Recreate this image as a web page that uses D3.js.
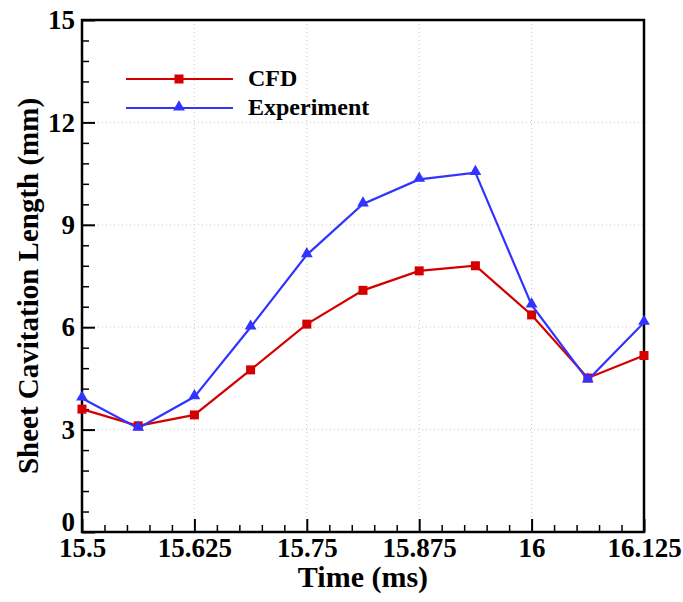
<!DOCTYPE html>
<html>
<head>
<meta charset="utf-8">
<script src="https://cdn.jsdelivr.net/npm/d3@7/dist/d3.min.js"></script>
<style>
  html, body { margin: 0; padding: 0; background: #fff; }
</style>
</head>
<body>
<svg id="chart" width="683" height="602"></svg>
<script>
// ---- data ----
const times = [15.5, 15.5625, 15.625, 15.6875, 15.75, 15.8125, 15.875, 15.9375, 16, 16.0625, 16.125];
const cfd = [3.60, 3.11, 3.43, 4.75, 6.09, 7.08, 7.65, 7.80, 6.36, 4.51, 5.17];
const experiment = [3.92, 3.04, 3.96, 6.00, 8.12, 9.61, 10.33, 10.53, 6.65, 4.45, 6.14];
const xTicks = [15.5, 15.625, 15.75, 15.875, 16, 16.125];
const xTickLabels = ["15.5", "15.625", "15.75", "15.875", "16", "16.125"];
const yTicks = [0, 3, 6, 9, 12, 15];
const yTickLabels = ["0", "3", "6", "9", "12", "15"];
const seriesNames = ["CFD", "Experiment"];

const FONT = "'Liberation Serif', 'Times New Roman', Tinos, 'DejaVu Serif', serif";

// ---- layout ----
const svg = d3.select("#chart");
const L = 82, R = 644, T = 20, B = 532;
const x = d3.scaleLinear().domain([15.5, 16.125]).range([L, R]);
const y = d3.scaleLinear().domain([0, 15]).range([B, T]);

// grid
const grid = svg.append("g");
grid.selectAll(".gx").data(xTicks.slice(1, -1)).enter().append("line")
  .attr("x1", d => x(d)).attr("x2", d => x(d)).attr("y1", T).attr("y2", B)
  .attr("stroke", "#c8c8c8").attr("stroke-width", 1).attr("stroke-dasharray", "1,3");
grid.selectAll(".gy").data(yTicks.slice(1, -1)).enter().append("line")
  .attr("y1", d => y(d)).attr("y2", d => y(d)).attr("x1", L).attr("x2", R)
  .attr("stroke", "#c8c8c8").attr("stroke-width", 1).attr("stroke-dasharray", "1,3");

// minor ticks
const xMinor = d3.range(0, 26).map(i => 15.5 + i * 0.025).filter((d, i) => i % 5 !== 0);
const yMinor = d3.range(0, 26).map(i => i * 0.6).filter((d, i) => i % 5 !== 0);
svg.append("g").attr("transform", `translate(0,${B})`)
  .call(d3.axisBottom(x).tickValues(xMinor).tickSize(-7).tickSizeOuter(0).tickFormat(""))
  .call(g => g.select(".domain").remove())
  .call(g => g.selectAll("line").attr("stroke", "#000").attr("stroke-width", 1.5));
svg.append("g").attr("transform", `translate(${L},0)`)
  .call(d3.axisLeft(y).tickValues(yMinor).tickSize(-7).tickSizeOuter(0).tickFormat(""))
  .call(g => g.select(".domain").remove())
  .call(g => g.selectAll("line").attr("stroke", "#000").attr("stroke-width", 1.5));

// major axes
svg.append("g").attr("transform", `translate(0,${B})`)
  .call(d3.axisBottom(x).tickValues(xTicks).tickSize(-13).tickSizeOuter(0).tickPadding(6)
    .tickFormat((d, i) => xTickLabels[i]))
  .attr("font-family", FONT).attr("font-weight", "bold").attr("font-size", 27)
  .call(g => g.select(".domain").remove())
  .call(g => g.selectAll("line").attr("stroke", "#000").attr("stroke-width", 2))
  .call(g => g.selectAll("text").attr("fill", "#000"));
svg.append("g").attr("transform", `translate(${L},0)`)
  .call(d3.axisLeft(y).tickValues(yTicks).tickSize(-13).tickSizeOuter(0).tickPadding(7)
    .tickFormat((d, i) => yTickLabels[i]))
  .attr("font-family", FONT).attr("font-weight", "bold").attr("font-size", 27)
  .call(g => g.select(".domain").remove())
  .call(g => g.selectAll("line").attr("stroke", "#000").attr("stroke-width", 2))
  .call(g => g.selectAll("text").attr("fill", "#000")
    .attr("dy", d => d === 0 ? "-0.05em" : "0.32em"));

// frame
svg.append("rect").attr("x", L).attr("y", T).attr("width", R - L).attr("height", B - T)
  .attr("fill", "none").attr("stroke", "#000").attr("stroke-width", 2.5);

// series
const colors = ["#d40000", "#3333ff"];
const line = d3.line().x((d, i) => x(times[i])).y(d => y(d));
const tri = d3.symbol().type(d3.symbolTriangle).size(60);

svg.append("path").datum(cfd).attr("d", line).attr("fill", "none")
  .attr("stroke", colors[0]).attr("stroke-width", 2.2);
svg.selectAll(".sq").data(cfd).enter().append("rect")
  .attr("x", (d, i) => x(times[i]) - 4.5).attr("y", d => y(d) - 4.5)
  .attr("width", 9).attr("height", 9).attr("fill", colors[0]);

svg.append("path").datum(experiment).attr("d", line).attr("fill", "none")
  .attr("stroke", colors[1]).attr("stroke-width", 2.2);
svg.selectAll(".tr").data(experiment).enter().append("path")
  .attr("d", tri)
  .attr("transform", (d, i) => `translate(${x(times[i])},${y(d) - 1})`)
  .attr("fill", colors[1]);

// legend
const lg = svg.append("g").attr("font-family", FONT).attr("font-weight", "bold");
const legY = [79, 108];
seriesNames.forEach((name, k) => {
  lg.append("line").attr("x1", 126).attr("x2", 233).attr("y1", legY[k]).attr("y2", legY[k])
    .attr("stroke", colors[k]).attr("stroke-width", 2.2);
  if (k === 0) {
    lg.append("rect").attr("x", 179 - 4.5).attr("y", legY[k] - 4.5).attr("width", 9).attr("height", 9)
      .attr("fill", colors[k]);
  } else {
    lg.append("path").attr("d", tri).attr("transform", `translate(179,${legY[k] - 1})`).attr("fill", colors[k]);
  }
  lg.append("text").attr("x", 248).attr("y", legY[k] + 7).attr("font-size", 24).text(name);
});

// axis titles
const titles = svg.append("g").attr("font-family", FONT).attr("font-weight", "bold");
titles.append("text").attr("x", (L + R) / 2).attr("y", 587).attr("text-anchor", "middle")
  .attr("font-size", 30).text("Time (ms)");
titles.append("text").attr("transform", `translate(38,${(T + B) / 2 + 10}) rotate(-90)`)
  .attr("text-anchor", "middle").attr("font-size", 29).text("Sheet Cavitation Length (mm)");
</script>
</body>
</html>
